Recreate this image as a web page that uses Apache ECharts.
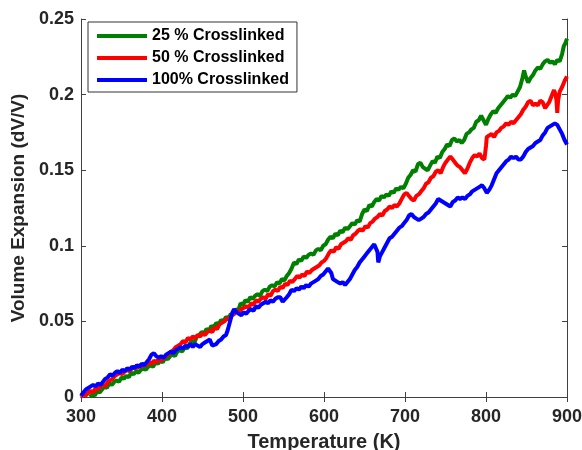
<!DOCTYPE html>
<html>
<head>
<meta charset="utf-8">
<script src="https://cdn.jsdelivr.net/npm/echarts@6/dist/echarts.min.js"></script>
<style>
  html, body { margin: 0; padding: 0; background: #fff; }
  #main { width: 582px; height: 450px; }
</style>
</head>
<body>
<div id="main"></div>
<script>
// values: [temperature K, dV/V]
var green25 = [
  [311,.000],[314,.002],[317,.001],[320,.004],[323,.003],[326,.005],[329,.007],[332,.006],[335,.009],[338,.008],
  [341,.010],[344,.011],[347,.010],[350,.013],[353,.012],[356,.014],[359,.013],[362,.016],[365,.015],[368,.017],
  [371,.016],[374,.018],[377,.019],[380,.018],[383,.020],[386,.021],[389,.020],[392,.023],[395,.022],[398,.024],
  [401,.023],[404,.026],[407,.025],[410,.027],[413,.028],[416,.027],[419,.030],[422,.031],[425,.030],[428,.033],
  [431,.032],[434,.035],[437,.037],[440,.036],[443,.040],[446,.041],[449,.043],[452,.042],[455,.045],[458,.044],
  [461,.047],[464,.046],[467,.049],[470,.048],[473,.051],[476,.050],[479,.053],[482,.052],[485,.055],[488,.054],
  [491,.058],[494,.057],[497,.062],[500,.061],[503,.064],[506,.063],[509,.066],[512,.065],[515,.067],[518,.068],
  [521,.067],[524,.070],[527,.071],[530,.070],[533,.073],[536,.074],[539,.073],[542,.076],[545,.075],[548,.078],
  [551,.077],[554,.080],[557,.082],[560,.085],[563,.089],[566,.088],[569,.091],[572,.090],[575,.093],[578,.092],
  [581,.094],[584,.095],[587,.094],[590,.097],[593,.098],[596,.097],[599,.100],[602,.101],[605,.104],[608,.106],
  [611,.105],[614,.108],[617,.107],[620,.110],[623,.109],[626,.112],[629,.111],[632,.113],[635,.115],[638,.114],
  [641,.117],[644,.116],[647,.121],[650,.124],[653,.123],[656,.127],[659,.126],[662,.129],[665,.131],[668,.130],
  [671,.133],[674,.132],[677,.134],[680,.133],[683,.136],[686,.135],[689,.138],[692,.137],[695,.139],[698,.138],
  [701,.141],[704,.145],[707,.147],[710,.150],[713,.149],[716,.154],[719,.155],[722,.152],[725,.151],[728,.150],
  [731,.153],[734,.156],[737,.155],[740,.159],[743,.158],[746,.162],[749,.164],[752,.167],[755,.166],[758,.170],
  [761,.171],[764,.169],[767,.170],[770,.168],[773,.170],[776,.174],[779,.175],[782,.177],[785,.178],[788,.182],
  [791,.183],[794,.186],[797,.183],[800,.180],[803,.184],[806,.187],[809,.189],[812,.188],[815,.191],[818,.193],
  [821,.195],[824,.197],[827,.199],[830,.198],[833,.200],[836,.199],[839,.202],[842,.205],[845,.211],[847,.216],
  [849,.212],[852,.208],[855,.211],[858,.213],[861,.216],[864,.218],[867,.217],[870,.220],[873,.222],[876,.223],
  [879,.221],[882,.222],[885,.220],[888,.223],[891,.222],[894,.227],[896,.232],[898,.234],[900,.237]
];
var red50 = [
  [300,.000],[303,.002],[306,.001],[309,.003],[312,.004],[315,.003],[318,.006],[321,.005],[324,.007],[327,.008],
  [330,.007],[333,.010],[336,.011],[339,.012],[342,.014],[345,.015],[348,.016],[351,.015],[354,.017],[357,.018],
  [360,.017],[363,.019],[366,.020],[369,.019],[372,.021],[375,.020],[378,.022],[381,.021],[384,.023],[387,.022],
  [390,.024],[393,.023],[396,.025],[399,.024],[402,.026],[405,.027],[408,.028],[411,.030],[414,.031],[417,.033],
  [420,.034],[423,.035],[426,.037],[429,.036],[432,.039],[435,.038],[438,.040],[441,.039],[444,.041],[447,.040],
  [450,.042],[453,.041],[456,.043],[459,.044],[462,.043],[465,.046],[468,.045],[471,.048],[474,.049],[477,.050],
  [480,.052],[483,.051],[486,.054],[489,.055],[492,.057],[495,.056],[498,.058],[501,.059],[504,.060],[507,.059],
  [510,.062],[513,.061],[516,.064],[519,.063],[522,.065],[525,.066],[528,.065],[531,.068],[534,.067],[537,.070],
  [540,.071],[543,.070],[546,.073],[549,.072],[552,.075],[555,.074],[558,.077],[561,.076],[564,.078],[567,.080],
  [570,.079],[573,.081],[576,.080],[579,.083],[582,.082],[585,.084],[588,.085],[591,.086],[594,.087],[597,.089],
  [600,.090],[603,.092],[606,.095],[609,.097],[612,.096],[615,.099],[618,.098],[621,.101],[624,.102],[627,.103],
  [630,.105],[633,.104],[636,.107],[639,.108],[642,.110],[645,.111],[648,.110],[651,.113],[654,.112],[657,.115],
  [660,.116],[663,.118],[666,.119],[669,.121],[672,.120],[675,.123],[678,.124],[681,.126],[684,.125],[687,.127],
  [690,.126],[693,.128],[696,.131],[699,.134],[702,.135],[705,.133],[708,.131],[711,.130],[714,.133],[717,.134],
  [720,.136],[723,.138],[726,.141],[729,.142],[732,.145],[735,.146],[738,.149],[741,.150],[744,.148],[747,.152],
  [750,.155],[753,.157],[756,.159],[759,.157],[762,.155],[765,.153],[768,.152],[771,.150],[774,.148],[777,.151],
  [780,.155],[783,.158],[786,.160],[789,.159],[792,.161],[795,.158],[798,.157],[800,.166],[801,.172],[804,.173],
  [807,.174],[810,.172],[813,.175],[816,.176],[819,.178],[822,.179],[825,.181],[828,.180],[831,.182],[834,.181],
  [837,.183],[840,.185],[843,.187],[846,.190],[849,.192],[852,.195],[855,.196],[858,.193],[861,.194],[864,.193],
  [867,.196],[870,.195],[873,.191],[875,.190],[878,.195],[881,.199],[884,.203],[886,.200],[887,.196],[888,.188],
  [889,.196],[891,.202],[894,.205],[897,.209],[900,.212]
];
var blue100 = [
  [300,.001],[303,.003],[306,.005],[309,.006],[312,.007],[315,.008],[318,.007],[321,.009],[324,.008],[327,.010],
  [330,.012],[333,.013],[336,.015],[339,.014],[342,.016],[345,.017],[348,.016],[351,.018],[354,.017],[357,.019],
  [360,.018],[363,.020],[366,.019],[369,.021],[372,.020],[375,.022],[378,.021],[381,.023],[384,.025],[387,.028],
  [390,.029],[393,.027],[396,.026],[399,.027],[402,.026],[405,.028],[408,.029],[411,.030],[414,.029],[417,.031],
  [420,.032],[423,.033],[426,.032],[429,.034],[432,.033],[435,.035],[438,.033],[441,.035],[444,.034],[447,.033],
  [450,.035],[453,.036],[456,.037],[459,.038],[462,.034],[464,.033],[467,.035],[470,.037],[473,.038],[476,.040],
  [479,.041],[481,.044],[484,.050],[487,.056],[489,.058],[492,.056],[495,.055],[498,.054],[501,.056],[504,.055],
  [507,.057],[510,.058],[513,.057],[516,.060],[519,.059],[522,.061],[525,.062],[528,.063],[531,.062],[534,.064],
  [537,.063],[540,.065],[543,.066],[546,.066],[549,.063],[551,.062],[554,.066],[557,.068],[560,.071],[563,.070],
  [566,.072],[569,.071],[572,.073],[575,.072],[578,.074],[581,.073],[584,.075],[587,.076],[590,.077],[593,.078],
  [596,.080],[599,.081],[602,.083],[605,.085],[607,.086],[609,.082],[611,.078],[614,.077],[617,.076],[620,.075],
  [623,.076],[626,.074],[629,.076],[632,.078],[635,.081],[638,.084],[641,.086],[644,.089],[647,.091],[650,.093],
  [653,.095],[656,.097],[659,.099],[662,.101],[664,.102],[666,.096],[667,.089],[669,.093],[672,.096],[675,.099],
  [678,.102],[681,.105],[684,.106],[687,.108],[690,.110],[693,.112],[696,.113],[699,.115],[702,.117],[705,.120],
  [708,.121],[711,.119],[714,.118],[717,.117],[720,.118],[723,.119],[726,.121],[729,.122],[732,.124],[735,.126],
  [738,.128],[741,.131],[744,.130],[747,.129],[750,.128],[753,.127],[756,.126],[759,.129],[762,.130],[765,.132],
  [768,.131],[771,.132],[774,.131],[777,.133],[780,.134],[783,.136],[786,.137],[789,.138],[792,.139],[795,.140],
  [798,.138],[801,.135],[804,.137],[807,.140],[810,.144],[813,.148],[816,.150],[819,.152],[822,.154],[825,.156],
  [828,.157],[831,.159],[834,.158],[837,.159],[840,.157],[843,.157],[846,.159],[849,.162],[852,.164],[855,.165],
  [858,.166],[861,.168],[864,.169],[867,.170],[870,.173],[873,.175],[876,.178],[879,.179],[882,.180],[885,.181],
  [888,.180],[891,.177],[894,.174],[897,.170],[900,.167]
];
var seriesNames = ['25 % Crosslinked', '50 % Crosslinked', '100% Crosslinked'];
var seriesColors = ['#008000', '#ff0000', '#0000ff'];

var font = 'Arial, "Liberation Sans", sans-serif';
var axisCol = '#404040';

var chart = echarts.init(document.getElementById('main'));

function mkSeries(name, data, color) {
	return {
		name: name,
		type: 'line',
		data: data,
		showSymbol: false,
		symbol: 'none',
		clip: true,
		lineStyle: { color: color, width: 4 },
		itemStyle: { color: color }
	};
}

var option = {
	animation: false,
	grid: { left: 81, right: 15, top: 19, bottom: 53, containLabel: false, outerBoundsMode: 'none' },
	legend: {
		orient: 'vertical',
		left: 88, top: 22,
		padding: [6, 8, 4, 9],
		itemGap: 6,
		itemWidth: 50,
		itemHeight: 4,
		icon: 'rect',
		borderColor: '#333',
		borderWidth: 1,
		backgroundColor: '#fff',
		textStyle: { fontFamily: font, fontWeight: 'bold', fontSize: 16, color: '#000' },
		data: seriesNames
	},
	xAxis: [{
		type: 'value', min: 300, max: 900, interval: 100,
		name: 'Temperature (K)', nameLocation: 'middle', nameGap: 35,
		nameTextStyle: { fontFamily: font, fontWeight: 'bold', fontSize: 20, color: '#262626' },
		axisLine: { show: true, lineStyle: { color: axisCol, width: 1 } },
		axisTick: { show: true, inside: true, length: 5, lineStyle: { color: axisCol } },
		axisLabel: { fontFamily: font, fontWeight: 'bold', fontSize: 18, color: '#262626', margin: 11 },
		splitLine: { show: false }
	}, {
		type: 'value', min: 300, max: 900, interval: 100, position: 'top',
		axisLine: { show: true, lineStyle: { color: axisCol, width: 1 } },
		axisTick: { show: true, inside: true, length: 5, lineStyle: { color: axisCol } },
		axisLabel: { show: false },
		splitLine: { show: false }
	}],
	yAxis: [{
		type: 'value', min: 0, max: 0.25, interval: 0.05,
		name: 'Volume Expansion (dV/V)', nameLocation: 'middle', nameGap: 51,
		nameTextStyle: { fontFamily: font, fontWeight: 'bold', fontSize: 19, color: '#262626' },
		axisLine: { show: true, lineStyle: { color: axisCol, width: 1 } },
		axisTick: { show: true, inside: true, length: 5, lineStyle: { color: axisCol } },
		axisLabel: { fontFamily: font, fontWeight: 'bold', fontSize: 18, color: '#262626', margin: 7 },
		splitLine: { show: false }
	}, {
		type: 'value', min: 0, max: 0.25, interval: 0.05, position: 'right',
		axisLine: { show: true, lineStyle: { color: axisCol, width: 1 } },
		axisTick: { show: true, inside: true, length: 5, lineStyle: { color: axisCol } },
		axisLabel: { show: false },
		splitLine: { show: false }
	}],
	series: [
		mkSeries(seriesNames[0], green25, seriesColors[0]),
		mkSeries(seriesNames[1], red50, seriesColors[1]),
		mkSeries(seriesNames[2], blue100, seriesColors[2])
	]
};
chart.setOption(option);
</script>
</body>
</html>
